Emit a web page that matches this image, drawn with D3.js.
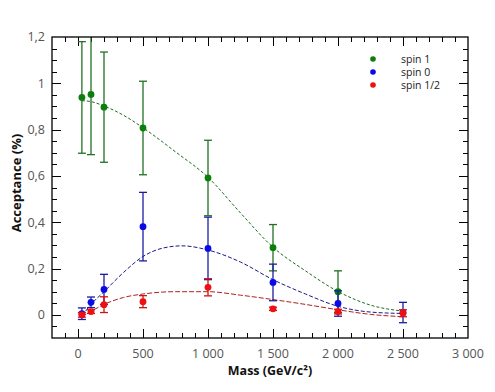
<!DOCTYPE html>
<html>
<head>
<meta charset="utf-8">
<script src="https://cdn.jsdelivr.net/npm/d3@7"></script>
<style>
  body { margin: 0; background: #fff; }
  svg { font-family: "Open Sans", "DejaVu Sans", sans-serif; }
</style>
</head>
<body>
<div id="chart"></div>
<script>
// measured points (mass in GeV/c², acceptance in %, symmetric error)
const masses = [30, 100, 200, 500, 1000, 1500, 2000, 2500];
const spin1Vals = [0.939, 0.952, 0.897, 0.807, 0.591, 0.290, 0.100, null];
const spin1Errs = [0.241, 0.26, 0.238, 0.202, 0.163, 0.100, 0.090, null];
const spin0Vals = [0.005, 0.054, 0.110, 0.381, 0.287, 0.140, 0.049, 0.010];
const spin0Errs = [0.025, 0.023, 0.065, 0.148, 0.135, 0.079, 0.055, 0.044];
const spinHalfVals = [0.000, 0.014, 0.044, 0.057, 0.119, 0.026, 0.014, 0.007];
const spinHalfErrs = [0.010, 0.008, 0.034, 0.026, 0.037, 0.007, 0.010, 0.015];

// fitted curves
const fitMasses1 = [30, 100, 200, 350, 500, 750, 1000, 1250, 1500, 1750, 2000, 2250, 2500];
const fitSpin1 = [0.925, 0.921, 0.902, 0.862, 0.808, 0.704, 0.594, 0.44, 0.292, 0.19, 0.101, 0.042, 0.016];
const fitMasses0 = [30, 100, 200, 350, 500, 650, 800, 1000, 1250, 1500, 1750, 2000, 2250, 2500];
const fitSpin0 = [-0.005, 0.045, 0.100, 0.183, 0.252, 0.288, 0.298, 0.280, 0.228, 0.152, 0.090, 0.037, 0.012, 0.006];
const fitMassesHalf = [30, 100, 200, 350, 500, 750, 1000, 1250, 1500, 1750, 2000, 2250, 2500];
const fitSpinHalf = [-0.008, 0.015, 0.045, 0.075, 0.090, 0.100, 0.100, 0.085, 0.066, 0.045, 0.022, 0.002, -0.008];

const seriesNames = ["spin 1", "spin 0", "spin 1/2"];

const W = 495, H = 392;
const margin = { top: 37, right: 27, bottom: 54, left: 52 };
const iw = W - margin.left - margin.right;
const ih = H - margin.top - margin.bottom;

const locale = d3.formatLocale({ decimal: ",", thousands: " ", grouping: [3], currency: ["", ""] });
const fmtX = locale.format(",d");
const fmtY = locale.format("~g");

const x = d3.scaleLinear().domain([-200, 3000]).range([0, iw]);
const y = d3.scaleLinear().domain([-0.1, 1.2]).range([ih, 0]);

const series = [
  { name: seriesNames[0], vals: spin1Vals, errs: spin1Errs, fx: fitMasses1, fy: fitSpin1,
    dot: "#0a800a", bar: "#237023", line: "#1d6b1d", dash: "3,2" },
  { name: seriesNames[1], vals: spin0Vals, errs: spin0Errs, fx: fitMasses0, fy: fitSpin0,
    dot: "#0a0ae6", bar: "#1c1ca0", line: "#1a1a8a", dash: "4,2" },
  { name: seriesNames[2], vals: spinHalfVals, errs: spinHalfErrs, fx: fitMassesHalf, fy: fitSpinHalf,
    dot: "#ee1010", bar: "#cc1414", line: "#b02020", dash: "5,2" }
];

const svg = d3.select("#chart").append("svg")
  .attr("width", W).attr("height", H);

const g = svg.append("g").attr("transform", `translate(${margin.left},${margin.top})`);

svg.append("defs").append("clipPath").attr("id", "clip")
  .append("rect").attr("width", iw).attr("height", ih);

// ticks (inside the frame, on all four sides)
const xMinor = d3.range(-100, 3000, 100);
const yMinor = d3.range(-0.05, 1.2, 0.05);
const ticks = g.append("g").attr("stroke", "#000").attr("stroke-width", 1);
xMinor.forEach(v => {
  const major = Math.round(v) % 500 === 0;
  const len = major ? 9 : 5;
  const px = Math.round(x(v)) + 0.5;
  ticks.append("line").attr("x1", px).attr("x2", px).attr("y1", ih).attr("y2", ih - len);
  ticks.append("line").attr("x1", px).attr("x2", px).attr("y1", 0).attr("y2", len);
});
yMinor.forEach(v => {
  const major = Math.abs(Math.round(v * 100) % 20) === 0;
  const len = major ? 9 : 5;
  const py = Math.round(y(v)) + 0.5;
  ticks.append("line").attr("y1", py).attr("y2", py).attr("x1", 0).attr("x2", len);
  ticks.append("line").attr("y1", py).attr("y2", py).attr("x1", iw).attr("x2", iw - len);
});

// tick labels
g.append("g").selectAll("text")
  .data(d3.range(0, 3001, 500))
  .join("text")
  .attr("x", d => x(d)).attr("y", ih + 20)
  .attr("text-anchor", "middle")
  .attr("font-size", 12.5).attr("fill", "#555")
  .text(d => fmtX(d));

g.append("g").selectAll("text")
  .data([0, 0.2, 0.4, 0.6, 0.8, 1, 1.2])
  .join("text")
  .attr("x", -7).attr("y", d => y(d)).attr("dy", "0.35em")
  .attr("text-anchor", "end")
  .attr("font-size", 12.5).attr("fill", "#555")
  .text(d => fmtY(d));

// axis titles
svg.append("text")
  .attr("x", 270).attr("y", 375)
  .attr("text-anchor", "middle")
  .attr("font-size", 12.5).attr("font-weight", "bold").attr("fill", "#111")
  .text("Mass (GeV/c²)");

svg.append("text")
  .attr("transform", "translate(21,183) rotate(-90)")
  .attr("text-anchor", "middle")
  .attr("font-size", 13).attr("font-weight", "bold").attr("fill", "#111")
  .text("Acceptance (%)");

const plot = g.append("g").attr("clip-path", "url(#clip)");

// fitted curves
const line = d3.line().curve(d3.curveMonotoneX).x(d => x(d[0])).y(d => y(d[1]));
series.forEach(s => {
  plot.append("path")
    .datum(s.fx.map((m, i) => [m, s.fy[i]]))
    .attr("fill", "none")
    .attr("stroke", s.line)
    .attr("stroke-width", 1)
    .attr("stroke-dasharray", s.dash)
    .attr("d", line);
});

// error bars and points
series.forEach(s => {
  const pts = masses.map((m, i) => ({ m, v: s.vals[i], e: s.errs[i] })).filter(d => d.v !== null);
  const eb = plot.append("g").attr("stroke", s.bar).attr("stroke-width", 1.3);
  pts.forEach(d => {
    const px = x(d.m);
    eb.append("line").attr("x1", px).attr("x2", px).attr("y1", y(d.v - d.e)).attr("y2", y(d.v + d.e));
    eb.append("line").attr("x1", px - 4).attr("x2", px + 4).attr("y1", y(d.v - d.e)).attr("y2", y(d.v - d.e));
    eb.append("line").attr("x1", px - 4).attr("x2", px + 4).attr("y1", y(d.v + d.e)).attr("y2", y(d.v + d.e));
  });
  plot.append("g").selectAll("circle")
    .data(pts)
    .join("circle")
    .attr("cx", d => x(d.m)).attr("cy", d => y(d.v))
    .attr("r", 3.4)
    .attr("fill", s.dot);
});

// frame
g.append("rect")
  .attr("width", iw).attr("height", ih)
  .attr("fill", "none").attr("stroke", "#000").attr("stroke-width", 1.3);

// legend
const legend = g.append("g").attr("transform", `translate(${373 - margin.left},${59 - margin.top})`);
series.forEach((s, i) => {
  legend.append("circle").attr("cx", 0).attr("cy", i * 13).attr("r", 2.8).attr("fill", s.dot);
  legend.append("text").attr("x", 28).attr("y", i * 13).attr("dy", "0.35em")
    .attr("font-size", 10.5).attr("fill", "#222").text(s.name);
});
</script>
</body>
</html>
